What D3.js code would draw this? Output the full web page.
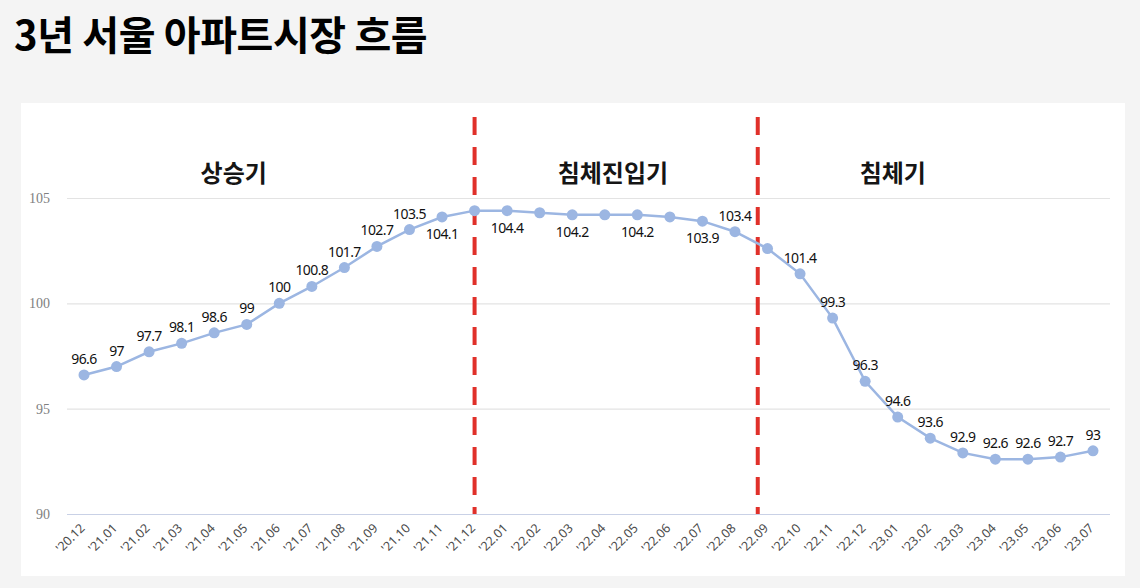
<!DOCTYPE html>
<html><head><meta charset="utf-8">
<script src="https://cdn.jsdelivr.net/npm/d3@7"></script>
<style>
body{margin:0;background:#f4f4f4;}
svg{display:block;}
</style></head>
<body><svg id="c" width="1140" height="588"></svg>
<script>
const titleText = "3년 서울 아파트시장 흐름";
const months = ["'20.12","'21.01","'21.02","'21.03","'21.04","'21.05","'21.06","'21.07","'21.08","'21.09","'21.10","'21.11","'21.12","'22.01","'22.02","'22.03","'22.04","'22.05","'22.06","'22.07","'22.08","'22.09","'22.10","'22.11","'22.12","'23.01","'23.02","'23.03","'23.04","'23.05","'23.06","'23.07"];
const values = [96.6,97,97.7,98.1,98.6,99,100,100.8,101.7,102.7,103.5,104.1,104.4,104.4,104.3,104.2,104.2,104.2,104.1,103.9,103.4,102.6,101.4,99.3,96.3,94.6,93.6,92.9,92.6,92.6,92.7,93];
const valueLabels = ["96.6","97","97.7","98.1","98.6","99","100","100.8","101.7","102.7","103.5","104.1","","104.4","","104.2","","104.2","","103.9","103.4","","101.4","99.3","96.3","94.6","93.6","92.9","92.6","92.6","92.7","93"];
const labelBelow = [false,false,false,false,false,false,false,false,false,false,false,true,false,true,false,true,false,true,false,true,false,false,false,false,false,false,false,false,false,false,false,false];
const yTicks = [90,95,100,105];
const phaseNames = ["상승기","침체진입기","침체기"];
const phaseCenters = [4.6,16.25,24.85];   // category index
const dividers = [12,20.7];               // category index

const svg = d3.select("#c");
svg.append("rect").attr("x",0).attr("y",0).attr("width",1140).attr("height",588).attr("fill","#f4f4f4");
svg.append("rect").attr("x",21).attr("y",103).attr("width",1104).attr("height",473).attr("fill","#ffffff");

svg.append("text").attr("x",14).attr("y",50).text(titleText)
  .attr("font-family","'Noto Sans CJK KR', sans-serif").attr("font-weight",700)
  .attr("font-size",40).attr("fill","#000").attr("letter-spacing",-0.4);

const x = d3.scaleLinear().domain([0, months.length-1]).range([84,1093]);
const y = d3.scaleLinear().domain([90,105]).range([514,198]);

// grid
const yAxis = d3.axisLeft(y).tickValues(yTicks).tickSize(-(1110-67)).tickPadding(17).tickFormat(d3.format("d"));
const gy = svg.append("g").attr("transform","translate(67,0)").call(yAxis);
gy.select(".domain").remove();
gy.selectAll(".tick line").attr("stroke", d => d===90 ? "#c9d1e6" : "#e3e3e3").attr("stroke-width",1.2);
gy.selectAll(".tick text").attr("font-family","'Liberation Serif','DejaVu Serif',serif").attr("font-size",14).attr("fill","#808080");

// x axis labels
const xAxis = d3.axisBottom(x).tickValues(d3.range(months.length)).tickSize(0).tickFormat(i => months[i]);
const gx = svg.append("g").attr("transform","translate(0,514)").call(xAxis);
gx.select(".domain").remove();
gx.selectAll(".tick text")
  .attr("font-family","'Noto Sans', sans-serif").attr("font-size",12.5).attr("fill","#4a4a4a")
  .attr("text-anchor","end").attr("dy",0).attr("y",0)
  .attr("transform","translate(1,15) rotate(-45)");

// dividers
svg.selectAll("line.div").data(dividers).join("line").attr("class","div")
  .attr("x1",d=>x(d)).attr("x2",d=>x(d)).attr("y1",117).attr("y2",514)
  .attr("stroke","#e0302a").attr("stroke-width",4).attr("stroke-dasharray","18 12");

// phase labels
svg.selectAll("text.phase").data(phaseNames).join("text").attr("class","phase")
  .attr("x",(d,i)=>x(phaseCenters[i])).attr("y",182).attr("text-anchor","middle")
  .attr("font-family","'Noto Sans CJK KR', sans-serif").attr("font-weight",700).attr("font-size",24).attr("fill","#151515")
  .text(d=>d);

// line
const line = d3.line().x((d,i)=>x(i)).y(d=>y(d));
svg.append("path").datum(values).attr("d",line).attr("fill","none").attr("stroke","#9cb6e2").attr("stroke-width",2.5);
svg.selectAll("circle.pt").data(values).join("circle").attr("class","pt")
  .attr("cx",(d,i)=>x(i)).attr("cy",d=>y(d)).attr("r",5.5).attr("fill","#9cb6e2");

// value labels
svg.selectAll("text.val").data(values).join("text").attr("class","val")
  .attr("x",(d,i)=>x(i)).attr("y",(d,i)=>labelBelow[i] ? y(d)+22 : y(d)-11)
  .attr("text-anchor","middle")
  .attr("font-family","'Noto Sans', sans-serif").attr("font-size",14).attr("fill","#111").attr("letter-spacing",-0.6)
  .text((d,i)=>valueLabels[i]);
</script></body></html>
